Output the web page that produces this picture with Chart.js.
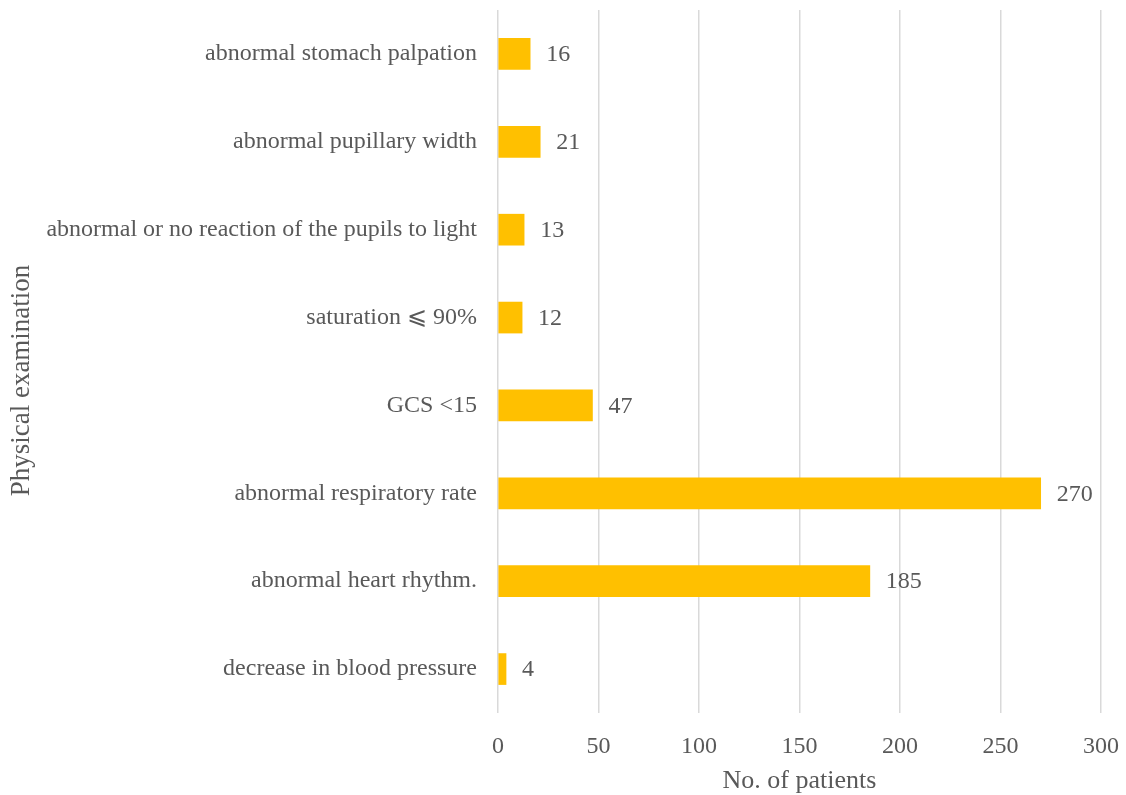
<!DOCTYPE html>
<html>
<head>
<meta charset="utf-8">
<script src="https://cdn.jsdelivr.net/npm/chart.js@4.4.1/dist/chart.umd.min.js"></script>
<style>
  html, body { margin: 0; padding: 0; background: #fff; }
  #wrap { width: 1126px; height: 795px; }
</style>
</head>
<body>
<div id="wrap"><canvas id="exam"></canvas></div>
<script>
  // findings on physical examination, top to bottom
  const findings = [
    'abnormal stomach palpation',
    'abnormal pupillary width',
    'abnormal or no reaction of the pupils to light',
    'saturation \u2A7D 90%',
    'GCS <15',
    'abnormal respiratory rate',
    'abnormal heart rhythm.',
    'decrease in blood pressure'
  ];
  const patients = [16, 21, 13, 12, 47, 270, 185, 4];
  const xTicks = [0, 50, 100, 150, 200, 250, 300];

  const GREY = '#595959';
  const FONT = '"Liberation Serif", "Times New Roman", serif';

  // value printed just past the end of each bar
  const barValues = {
    id: 'barValues',
    afterDatasetsDraw(chart) {
      const ctx = chart.ctx;
      const meta = chart.getDatasetMeta(0);
      ctx.save();
      ctx.font = '24px ' + FONT;
      ctx.fillStyle = GREY;
      ctx.textAlign = 'left';
      ctx.textBaseline = 'middle';
      meta.data.forEach((bar, i) => {
        ctx.fillText(String(patients[i]), bar.x + 16, bar.y + 1);
      });
      ctx.restore();
    }
  };

  // vertical axis title, sits a little below the middle of the plot
  const yTitle = {
    id: 'yTitle',
    afterDraw(chart) {
      const ctx = chart.ctx;
      const area = chart.chartArea;
      ctx.save();
      ctx.translate(22, (area.top + area.bottom) / 2 + 19);
      ctx.rotate(-Math.PI / 2);
      ctx.font = '27px ' + FONT;
      ctx.fillStyle = GREY;
      ctx.textAlign = 'center';
      ctx.textBaseline = 'middle';
      ctx.fillText('Physical examination', 0, 0);
      ctx.restore();
    }
  };

  new Chart(document.getElementById('exam'), {
    type: 'bar',
    data: {
      labels: findings,
      datasets: [{
        data: patients,
        backgroundColor: '#FFC000',
        borderWidth: 0,
        barThickness: 31
      }]
    },
    options: {
      indexAxis: 'y',
      responsive: true,
      maintainAspectRatio: false,
      animation: false,
      layout: { padding: { top: 10, right: 25, bottom: 0, left: 0 } },
      plugins: {
        legend: { display: false },
        tooltip: { enabled: false }
      },
      scales: {
        x: {
          min: 0,
          max: 300,
          afterBuildTicks: (scale) => { scale.ticks = xTicks.map(v => ({ value: v })); },
          afterFit: (scale) => {
            scale.height = 82;
            scale.paddingLeft = 0;
            scale.paddingRight = 0;
          },
          border: { display: false },
          grid: { color: '#d9d9d9', lineWidth: 1.5, drawTicks: false },
          ticks: { color: GREY, font: { family: FONT, size: 24 }, padding: 19 },
          title: {
            display: true,
            text: 'No. of patients',
            color: GREY,
            font: { family: FONT, size: 26 },
            padding: { top: 4, bottom: -2 }
          }
        },
        y: {
          afterFit: (scale) => {
            scale.width = 498;
            scale.paddingTop = 0;
            scale.paddingBottom = 0;
          },
          border: { display: false },
          grid: { display: false, drawTicks: false },
          ticks: { color: GREY, font: { family: FONT, size: 24 }, padding: 21, autoSkip: false },
          title: { display: false }
        }
      }
    },
    plugins: [barValues, yTitle]
  });
</script>
</body>
</html>
